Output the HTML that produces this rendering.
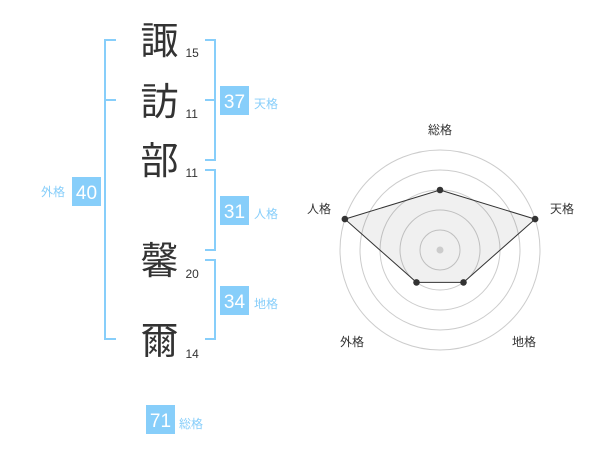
<!DOCTYPE html>
<html><head><meta charset="utf-8"><style>
html,body{margin:0;padding:0;background:#fff;}
svg{display:block;}
.k{font-family:"Liberation Sans","Noto Sans CJK JP",sans-serif;font-size:38px;fill:#333;}
.n{font-family:"Liberation Sans",sans-serif;font-size:12px;fill:#333;}
.b{font-family:"Liberation Sans",sans-serif;font-size:19px;fill:#fff;}
.l{font-family:"Liberation Sans","Noto Sans CJK JP",sans-serif;font-size:12px;fill:#87cefa;}
.r{font-family:"Liberation Sans","Noto Sans CJK JP",sans-serif;font-size:12px;fill:#333;}
</style></head><body>
<svg width="600" height="470" viewBox="0 0 600 470" xmlns="http://www.w3.org/2000/svg">
<!-- brackets -->
<g fill="none" stroke="#87cefa" stroke-width="2">
<path d="M116,40 H105 V339 H116"/>
<path d="M105,100 H116"/>
<path d="M205,40 H215 V160 H205"/>
<path d="M205,100 H215"/>
<path d="M205,170 H215 V250 H205"/>
<path d="M205,260 H215 V339 H205"/>
</g>
<!-- kanji -->
<text class="k" x="159.5" y="54" text-anchor="middle">諏</text>
<text class="k" x="159.5" y="115" text-anchor="middle">訪</text>
<text class="k" x="159.5" y="174" text-anchor="middle">部</text>
<text class="k" x="159.5" y="274" text-anchor="middle">馨</text>
<text class="k" x="159.5" y="354" text-anchor="middle">爾</text>
<text class="n" x="185.5" y="57">15</text>
<text class="n" x="185.5" y="118">11</text>
<text class="n" x="185.5" y="177">11</text>
<text class="n" x="185.5" y="278">20</text>
<text class="n" x="185.5" y="358">14</text>
<!-- boxes -->
<g fill="#87cefa">
<rect x="220" y="86" width="29" height="29"/>
<rect x="220" y="196" width="29" height="29"/>
<rect x="220" y="286" width="29" height="29"/>
<rect x="72" y="177" width="29" height="29"/>
<rect x="146" y="405" width="29" height="29"/>
</g>
<text class="b" x="234.5" y="108" text-anchor="middle">37</text>
<text class="b" x="234.5" y="218" text-anchor="middle">31</text>
<text class="b" x="234.5" y="308" text-anchor="middle">34</text>
<text class="b" x="86.5" y="199" text-anchor="middle">40</text>
<text class="b" x="160.5" y="427" text-anchor="middle">71</text>
<text class="l" x="254" y="108">天格</text>
<text class="l" x="254" y="218">人格</text>
<text class="l" x="254" y="308">地格</text>
<text class="l" x="41" y="196">外格</text>
<text class="l" x="179" y="428">総格</text>
<!-- radar -->
<g fill="none" stroke="#ccc" stroke-width="1">
<circle cx="440" cy="250" r="20"/>
<circle cx="440" cy="250" r="40"/>
<circle cx="440" cy="250" r="60"/>
<circle cx="440" cy="250" r="80"/>
<circle cx="440" cy="250" r="100"/>
</g>
<polygon points="440,190 535.1,219.1 463.5,282.4 416.5,282.4 344.9,219.1" fill="rgba(0,0,0,0.06)" stroke="#333" stroke-width="1"/>
<circle cx="440" cy="250" r="3.5" fill="#ccc"/>
<g fill="#333">
<circle cx="440" cy="190" r="3.3"/>
<circle cx="535.1" cy="219.1" r="3.3"/>
<circle cx="463.5" cy="282.4" r="3.3"/>
<circle cx="416.5" cy="282.4" r="3.3"/>
<circle cx="344.9" cy="219.1" r="3.3"/>
</g>
<text class="r" x="440" y="134" text-anchor="middle">総格</text>
<text class="r" x="562" y="213" text-anchor="middle">天格</text>
<text class="r" x="319" y="213" text-anchor="middle">人格</text>
<text class="r" x="352" y="346" text-anchor="middle">外格</text>
<text class="r" x="524" y="346" text-anchor="middle">地格</text>
</svg>
</body></html>
